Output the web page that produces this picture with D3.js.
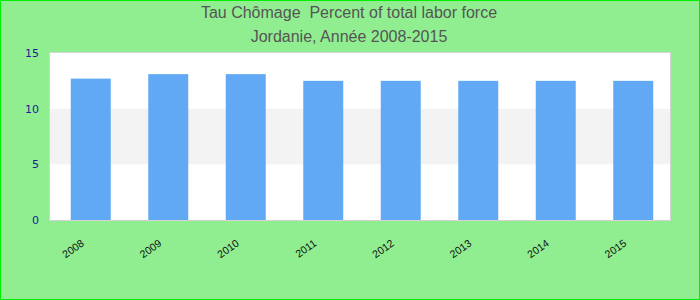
<!DOCTYPE html>
<html>
<head>
<meta charset="utf-8">
<script src="https://cdn.jsdelivr.net/npm/d3@7"></script>
<style>
  body { margin: 0; }
  svg { display: block; }
</style>
</head>
<body>
<svg id="chart"></svg>
<script>
// data
const years = ["2008", "2009", "2010", "2011", "2012", "2013", "2014", "2015"];
const rates = [12.7, 13.1, 13.1, 12.5, 12.5, 12.5, 12.5, 12.5];
const yTicks = [0, 5, 10, 15];
const titleLines = ["Tau Chômage  Percent of total labor force", "Jordanie, Année 2008-2015"];

const WIDTH = 700;
const HEIGHT = 300;
const PLOT = { LEFT: 50, RIGHT: 670, TOP: 53, BOTTOM: 220 };

let svg = d3.select("#chart")
  .attr("width", WIDTH)
  .attr("height", HEIGHT);

// background + frame
svg.append("rect")
  .attr("x", 0.5).attr("y", 0.5)
  .attr("width", WIDTH - 1).attr("height", HEIGHT - 1)
  .attr("fill", "#90ee90")
  .attr("stroke", "#00ee00")
  .attr("stroke-width", 1);

// titles
svg.selectAll("text.title")
  .data(titleLines)
  .enter()
  .append("text")
    .attr("class", "title")
    .attr("x", 349)
    .attr("y", (d, i) => 18 + i * 23.5)
    .attr("text-anchor", "middle")
    .style("white-space", "pre")
    .style("font-family", "'Liberation Sans', Arial, sans-serif")
    .style("font-size", "16px")
    .attr("fill", "#555")
    .text(d => d);

let xScale = d3.scaleBand()
  .domain(years)
  .range([PLOT.LEFT + 2, PLOT.RIGHT + 2])
  .paddingInner(0.484)
  .paddingOuter(0.242);

let yScale = d3.scaleLinear()
  .domain([0, 15])
  .range([PLOT.BOTTOM, PLOT.TOP]);

// plot area
svg.append("rect")
  .attr("x", PLOT.LEFT).attr("y", PLOT.TOP)
  .attr("width", PLOT.RIGHT - PLOT.LEFT)
  .attr("height", PLOT.BOTTOM - PLOT.TOP)
  .attr("fill", "#fff");

// alternating band 5-10
svg.append("rect")
  .attr("x", PLOT.LEFT)
  .attr("y", yScale(10))
  .attr("width", PLOT.RIGHT - PLOT.LEFT)
  .attr("height", yScale(5) - yScale(10))
  .attr("fill", "#f3f3f3");

// bars
svg.selectAll("rect.bar")
  .data(rates)
  .enter()
  .append("rect")
    .attr("class", "bar")
    .attr("x", (d, i) => xScale(years[i]))
    .attr("y", d => yScale(d))
    .attr("width", xScale.bandwidth())
    .attr("height", d => PLOT.BOTTOM - yScale(d))
    .attr("fill", "#62a9f5");

// plot border
svg.append("rect")
  .attr("x", PLOT.LEFT - 0.5).attr("y", PLOT.TOP - 0.5)
  .attr("width", PLOT.RIGHT - PLOT.LEFT + 1)
  .attr("height", PLOT.BOTTOM - PLOT.TOP + 1)
  .attr("fill", "none")
  .attr("stroke", "#d3d3d3")
  .attr("stroke-width", 1);

// y axis
let yAxis = svg.append("g")
  .attr("transform", `translate(${PLOT.LEFT}, 0)`)
  .call(d3.axisLeft(yScale).tickValues(yTicks).tickSize(0).tickPadding(11));
yAxis.select(".domain").remove();
yAxis.selectAll("text")
  .attr("fill", "#1a1a9a")
  .style("font-family", "'DejaVu Sans', sans-serif")
  .style("font-size", "11px");

// x axis labels
let xAxis = svg.append("g")
  .attr("transform", `translate(0, ${PLOT.BOTTOM})`)
  .call(d3.axisBottom(xScale).tickSize(0));
xAxis.select(".domain").remove();
xAxis.selectAll("text")
  .attr("y", 0)
  .attr("dy", 0)
  .attr("text-anchor", "end")
  .attr("transform", "translate(-6, 25) rotate(-35)")
  .attr("fill", "#111")
  .style("font-family", "'Liberation Sans', Arial, sans-serif")
  .style("font-size", "10.5px");
</script>
</body>
</html>
